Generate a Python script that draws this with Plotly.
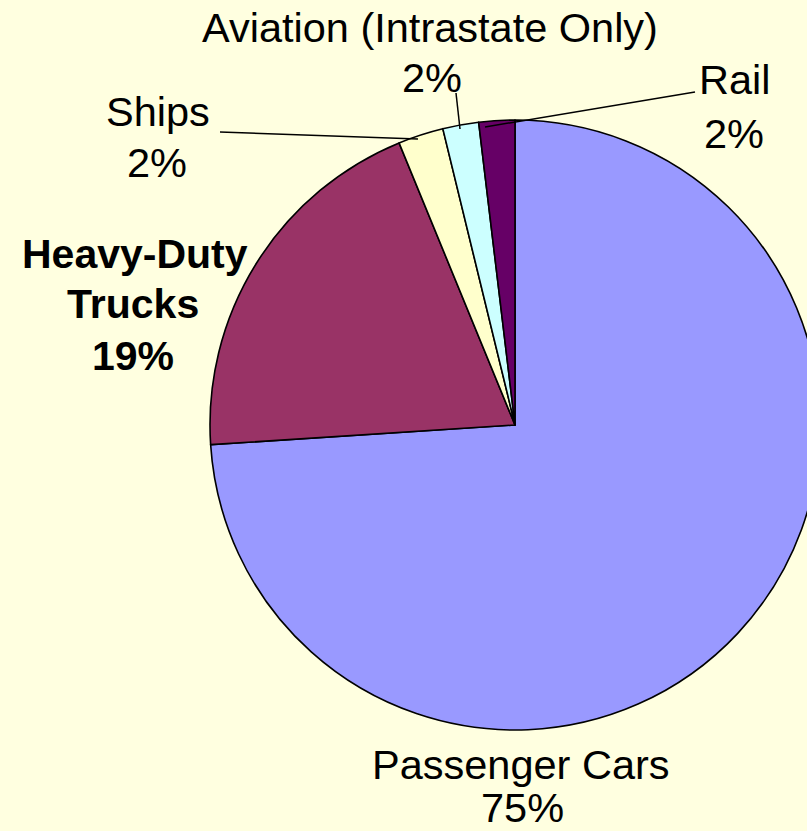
import plotly.graph_objects as go

# Data
categories = ["Passenger Cars", "Heavy-Duty Trucks", "Ships", "Aviation (Intrastate Only)", "Rail"]
values = [73.9, 19.8, 2.4, 1.9, 1.9]
shown_pct = [75, 19, 2, 2, 2]
colors = ["#9999FF", "#993366", "#FFFFCC", "#CCFFFF", "#660066"]

VW, H = 807, 831      # visible window
W = 830               # figure is a bit wider; the pie runs off the right edge as in the reference
BG = "#FFFFE0"

def px(x, y):
    return x / W, 1 - y / H

fig = go.Figure(go.Pie(
    labels=categories,
    values=values,
    sort=False,
    direction="clockwise",
    rotation=0,
    textinfo="none",
    hoverinfo="label+percent",
    marker=dict(colors=colors, line=dict(color="black", width=1.6)),
    showlegend=False,
    domain=dict(x=[210 / W, 820 / W], y=[1 - 730 / H, 1 - 120 / H]),
))

FONT = "Liberation Sans, Arial, sans-serif"
# label lines: (name line(s), x-centre, y-centres per line, bold)
label_layout = {
    "Passenger Cars": (["Passenger Cars"], [521, 522], [764, 807], False),
    "Heavy-Duty Trucks": (["Heavy-Duty", "Trucks"], [135, 133, 133], [254, 304, 356], True),
    "Ships": (["Ships"], [158, 157], [112, 163], False),
    "Aviation (Intrastate Only)": (["Aviation (Intrastate Only)"], [430, 432], [27, 77], False),
    "Rail": (["Rail"], [735, 734], [80, 133], False),
}
for cat, pct in zip(categories, shown_pct):
    lines, xs, ys, bold = label_layout[cat]
    all_lines = lines + [f"{pct}%"]
    for txt, x, y in zip(all_lines, xs, ys):
        if bold:
            txt = f"<b>{txt}</b>"
        xp, yp = px(x, y)
        fig.add_annotation(x=xp, y=yp, xref="paper", yref="paper", text=txt,
                           showarrow=False, xanchor="center", yanchor="middle",
                           align="center",
                           font=dict(family=FONT, size=41 if bold else 41.5, color="black"))

# leader lines
leaders = [((220, 132), (418, 139)), ((456, 93), (460, 129)), ((695, 92), (485, 127))]
for (x0, y0), (x1, y1) in leaders:
    a0, b0 = px(x0, y0)
    a1, b1 = px(x1, y1)
    fig.add_shape(type="line", xref="paper", yref="paper", x0=a0, y0=b0, x1=a1, y1=b1,
                  line=dict(color="black", width=1.5))

fig.update_layout(width=W, height=H, margin=dict(l=0, r=0, t=0, b=0),
                  paper_bgcolor=BG, plot_bgcolor=BG)
fig.write_html("out.html",
               config={"displayModeBar": False},
               post_script="document.body.style.margin='0';document.body.style.overflow='hidden';"
                           "document.documentElement.style.overflow='hidden';"
                           f"document.body.style.background='{BG}';")
